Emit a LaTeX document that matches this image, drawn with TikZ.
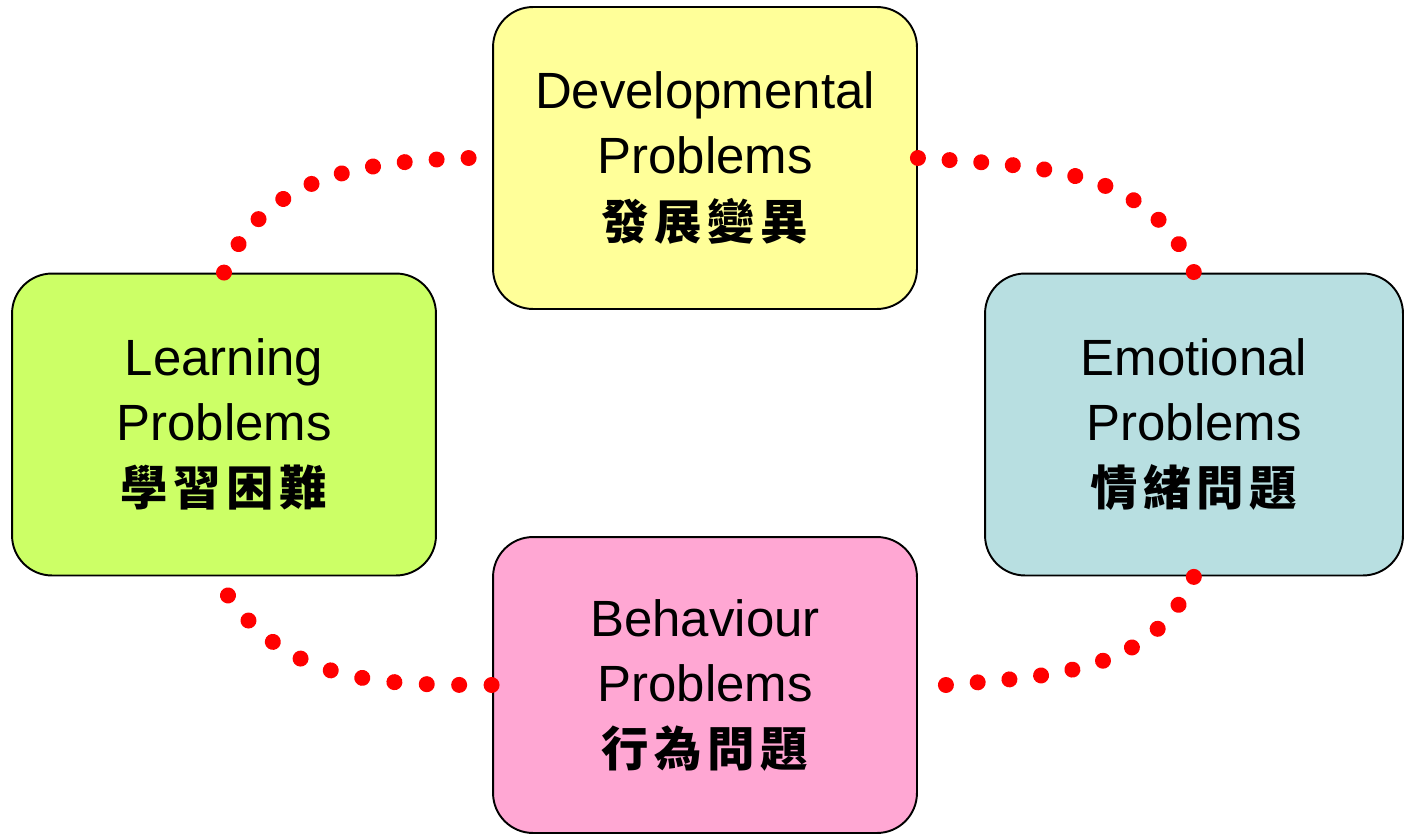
\documentclass[tikz,border=0pt]{standalone}
\usepackage{fontspec}
\setmainfont{Liberation Sans}
\newfontfamily\cjk{Noto Sans CJK TC}[LetterSpace=12]
\usetikzlibrary{decorations.markings}
\definecolor{devyellow}{HTML}{FFFF99}
\definecolor{learngreen}{HTML}{CCFF66}
\definecolor{emoblue}{HTML}{B8DFE1}
\definecolor{behpink}{HTML}{FFA7D3}
\definecolor{dotred}{HTML}{FF0000}
\tikzset{
  probbox/.style={draw=black,line width=1.1pt,rounded corners=0.8cm,
    minimum width=8.48cm,minimum height=6.04cm,align=center,
    font=\fontsize{29}{37}\selectfont},
  dotlink/.style={decoration={markings,
    mark=between positions 0 and 1 step #1 with {\fill[dotred] (0,0) circle (0.16cm);}},
    decorate}
}
\newcommand{\zh}[1]{{\cjk\bfseries\fontsize{27}{37}\selectfont #1}}
\begin{document}
\begin{tikzpicture}[x=0.02cm,y=0.02cm]
    \useasboundingbox (0,0) rectangle (1406,-835);
    \draw
    (705,-158) node[probbox,fill=devyellow](D){Developmental\\Problems\\\zh{發展變異}}
    (224,-424.5) node[probbox,fill=learngreen](L){Learning\\Problems\\\zh{學習困難}}
    (1194,-424.5) node[probbox,fill=emoblue,minimum width=8.36cm](E){Emotional\\Problems\\\zh{情緒問題}}
    (705,-685) node[probbox,fill=behpink,minimum height=5.92cm](B){Behaviour\\Problems\\\zh{行為問題}};
    \path (L.north) edge[dotlink=0.1109,out=68,in=182] ([xshift=-0.46cm]D.west)
          (D.east) edge[dotlink=0.0998,out=-4,in=113] (E.north)
          ([xshift=0.56cm]B.east) edge[dotlink=0.1109,out=5,in=-113] (E.south)
          ([shift={(0.08cm,-0.38cm)}]L.south) edge[dotlink=0.1109,out=-55,in=180] (B.west);
  \end{tikzpicture}
\end{document}
